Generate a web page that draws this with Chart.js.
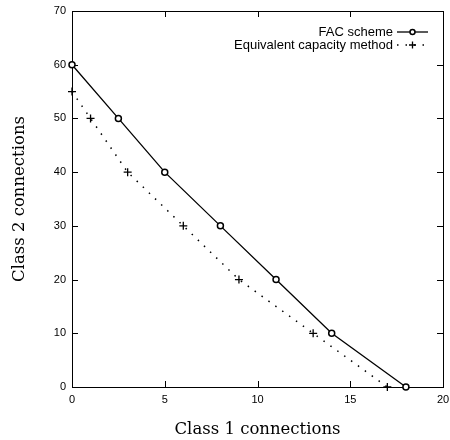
<!DOCTYPE html>
<html>
<head>
<meta charset="utf-8">
<script src="https://cdn.jsdelivr.net/npm/chart.js@4.4.0/dist/chart.umd.min.js"></script>
<style>
  html, body { margin: 0; padding: 0; background: #fff; }
  #wrap { width: 450px; height: 440px; }
</style>
</head>
<body>
<div id="wrap"><canvas id="chart"></canvas></div>
<script>
// values
const facX = [0, 2.5, 5, 8, 11, 14, 18];
const facY = [60, 50, 40, 30, 20, 10, 0];
const eqX = [0, 1, 3, 6, 9, 13, 17];
const eqY = [55, 50, 40, 30, 20, 10, 0];
const seriesNames = ['FAC scheme', 'Equivalent capacity method'];
const xTicks = [0, 5, 10, 15, 20];
const yTicks = [0, 10, 20, 30, 40, 50, 60, 70];

const toPoints = (xs, ys) => xs.map((x, i) => ({ x, y: ys[i] }));

// gnuplot style: box round the plot, small inward ticks on all four sides
const frameTicks = {
  id: 'frameTicks',
  beforeDatasetsDraw(chart) {
    const { ctx, chartArea: a, scales } = chart;
    ctx.save();
    ctx.strokeStyle = '#000';
    ctx.lineWidth = 1;
    ctx.strokeRect(a.left + 0.5, a.top + 0.5, a.right - a.left, a.bottom - a.top);
    const len = 6;
    ctx.beginPath();
    xTicks.forEach(v => {
      const px = Math.round(scales.x.getPixelForValue(v)) + 0.5;
      ctx.moveTo(px, a.bottom); ctx.lineTo(px, a.bottom - len);
      ctx.moveTo(px, a.top); ctx.lineTo(px, a.top + len);
    });
    yTicks.forEach(v => {
      const py = Math.round(scales.y.getPixelForValue(v)) + 0.5;
      ctx.moveTo(a.left, py); ctx.lineTo(a.left + len, py);
      ctx.moveTo(a.right, py); ctx.lineTo(a.right - len, py);
    });
    ctx.stroke();
    ctx.restore();
  }
};

// legend with text right aligned and the sample to its right, as gnuplot draws it
const keyPlugin = {
  id: 'gpKey',
  afterDatasetsDraw(chart) {
    const { ctx, chartArea: a } = chart;
    ctx.save();
    ctx.font = '13px "Liberation Sans", Arial, sans-serif';
    ctx.textAlign = 'right';
    ctx.textBaseline = 'middle';
    chart.data.datasets.forEach((ds, i) => {
      const y = a.top + 21 + i * 13;
      const sx0 = a.right - 46, sx1 = a.right - 15;
      ctx.fillStyle = '#000';
      ctx.fillText(ds.label, sx0 - 4, y);
      ctx.beginPath();
      ctx.strokeStyle = '#000';
      ctx.lineWidth = ds.borderWidth;
      ctx.setLineDash(ds.borderDash || []);
      ctx.moveTo(sx0, y); ctx.lineTo(sx1, y);
      ctx.stroke();
      ctx.setLineDash([]);
      ctx.fillStyle = ds.pointBackgroundColor;
      ctx.lineWidth = ds.pointBorderWidth;
      Chart.helpers.drawPoint(ctx, {
        pointStyle: ds.pointStyle, radius: ds.pointRadius - 0.5, borderWidth: ds.pointBorderWidth
      }, (sx0 + sx1) / 2, y);
    });
    ctx.restore();
  }
};

new Chart(document.getElementById('chart').getContext('2d'), {
  type: 'scatter',
  data: {
    datasets: [
      {
        label: seriesNames[0],
        data: toPoints(facX, facY),
        showLine: true,
        clip: false,
        borderColor: '#000',
        borderWidth: 1.3,
        pointStyle: 'circle',
        pointRadius: 3,
        pointBorderWidth: 1.5,
        pointBackgroundColor: '#fff',
        pointBorderColor: '#000'
      },
      {
        label: seriesNames[1],
        data: toPoints(eqX, eqY),
        showLine: true,
        clip: false,
        borderColor: '#000',
        borderWidth: 1.5,
        borderDash: [1.5, 7],
        pointStyle: 'cross',
        pointRadius: 4,
        pointBorderWidth: 1.3,
        pointBackgroundColor: '#000',
        pointBorderColor: '#000'
      }
    ]
  },
  options: {
    responsive: true,
    maintainAspectRatio: false,
    animation: false,
    layout: { padding: { top: 11, right: 7, left: 0, bottom: 0 } },
    plugins: { legend: { display: false }, tooltip: { enabled: false } },
    scales: {
      x: {
        type: 'linear', min: 0, max: 20,
        afterBuildTicks: s => { s.ticks = xTicks.map(v => ({ value: v })); },
        afterFit: s => { s.height = 53; s.paddingLeft = 0; s.paddingRight = 0; },
        grid: { display: false, drawTicks: false },
        border: { display: false },
        ticks: { color: '#000', padding: 6, maxRotation: 0, font: { family: 'Liberation Sans', size: 11 } },
        title: { display: true, text: 'Class 1 connections', color: '#000', padding: { top: 3, bottom: 0 }, font: { family: 'DejaVu Serif', size: 16.5 } }
      },
      y: {
        type: 'linear', min: 0, max: 70,
        afterBuildTicks: s => { s.ticks = yTicks.map(v => ({ value: v })); },
        afterFit: s => { s.width = 72; s.paddingTop = 0; s.paddingBottom = 0; },
        grid: { display: false, drawTicks: false },
        border: { display: false },
        ticks: { color: '#000', padding: 6, font: { family: 'Liberation Sans', size: 11 } },
        title: { display: true, text: 'Class 2 connections', color: '#000', padding: { top: 10, bottom: 5 }, font: { family: 'DejaVu Serif', size: 16.5 } }
      }
    }
  },
  plugins: [frameTicks, keyPlugin]
});
</script>
</body>
</html>
